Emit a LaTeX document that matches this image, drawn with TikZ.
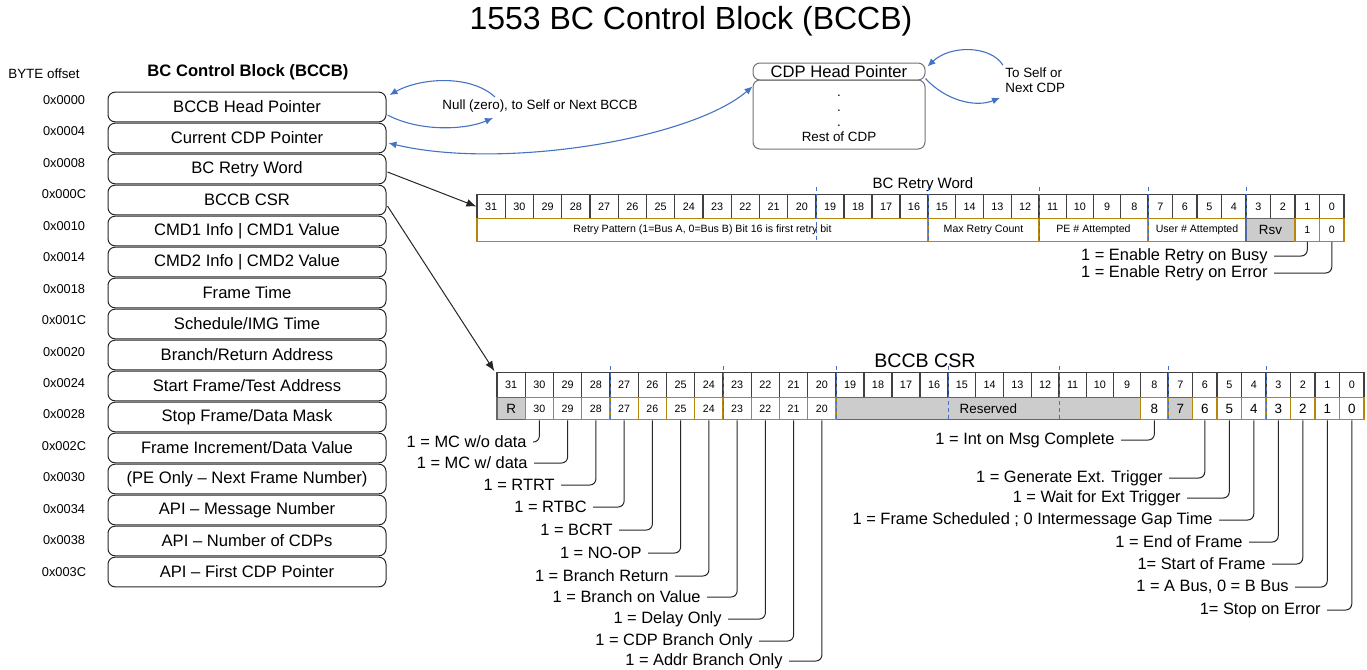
\documentclass[tikz,border=0pt]{standalone}
\usepackage{fontspec}
\setmainfont{Liberation Sans}
\usetikzlibrary{arrows.meta,calc}
\definecolor{linkblue}{RGB}{68,114,196}
\definecolor{fieldbrown}{RGB}{184,134,11}
\definecolor{rsvgray}{RGB}{204,204,204}

\tikzset{
  rowbox/.style={draw=black!85, line width=0.5pt, rounded corners=3.5pt, minimum width=139pt, minimum height=14.8pt, inner sep=0pt, font=\fontsize{8.3}{10}\selectfont},
  offtxt/.style={inner sep=0pt, font=\fontsize{6.4}{8}\selectfont},
  smalltxt/.style={inner sep=1pt, font=\fontsize{6.7}{7.5}\selectfont},
  cdpbox/.style={draw=black!55, line width=0.5pt, rounded corners=3.5pt, minimum width=86pt, inner sep=0pt},
  hdrcell/.style={draw=black!75, line width=0.6pt, inner sep=0pt, minimum height=12.25pt, font=\fontsize{5.4}{6}\selectfont},
  fldcell/.style={draw=fieldbrown, line width=0.6pt, inner sep=0pt, minimum height=11.25pt, font=\fontsize{5.3}{6}\selectfont},
  bigfld/.style={fldcell, font=\fontsize{6.7}{8}\selectfont},
  rsvcell/.style={draw=black!60, fill=rsvgray, line width=0.6pt, inner sep=0pt, minimum height=11.25pt, font=\fontsize{6.7}{8}\selectfont},
  nibble/.style={draw=linkblue, line width=0.5pt, dash pattern=on 2pt off 1.5pt},
  note/.style={anchor=east, inner xsep=3pt, inner ysep=0pt, font=\fontsize{8.2}{10}\selectfont},
  callout/.style={draw=black!85, line width=0.5pt, rounded corners=3pt},
  ptr/.style={draw=black!85, line width=0.5pt, -{Latex[length=5pt,width=4pt]}},
  selfptr/.style={draw=linkblue, line width=0.55pt, -{Latex[length=4pt,width=3.5pt]}},
  bothptr/.style={selfptr, {Latex[length=4pt,width=3.5pt]}-{Latex[length=4pt,width=3.5pt]}}
}

\begin{document}
\begin{tikzpicture}[x=0.5pt, y=-0.5pt,
  declare function={bitl(\k)=(\k>19) ? (31-\k)*28.25 : ((\k>15) ? 339+(19-\k)*28 : ((\k>11) ? 451+(15-\k)*27.75 : ((\k>7) ? 562+(11-\k)*27.25 : 671+(7-\k)*24.5)));}]
  \useasboundingbox (0,0) rectangle (1367,670);

  \node[font=\fontsize{16}{19}\selectfont] (title) at (691,21) {1553 BC Control Block (BCCB)};
  \node[font=\fontsize{6.7}{8}\selectfont] (byteoff) at (44,74) {BYTE offset};
  \node[font=\bfseries\fontsize{8.3}{10}\selectfont] (blkhdr) at (248,72) {BC Control Block (BCCB)};

  \foreach \i/\off/\txt in {0/0x0000/{BCCB Head Pointer}, 1/0x0004/{Current CDP Pointer},
      2/0x0008/{BC Retry Word}, 3/0x000C/{BCCB CSR}, 4/0x0010/{CMD1 Info | CMD1 Value},
      5/0x0014/{CMD2 Info | CMD2 Value}, 6/0x0018/{Frame Time}, 7/0x001C/{Schedule/IMG Time},
      8/0x0020/{Branch/Return Address}, 9/0x0024/{Start Frame/Test Address},
      10/0x0028/{Stop Frame/Data Mask}, 11/0x002C/{Frame Increment/Data Value},
      12/0x0030/{(PE Only – Next Frame Number)}, 13/0x0034/{API – Message Number},
      14/0x0038/{API – Number of CDPs}, 15/0x003C/{API – First CDP Pointer}} {
    \node[rowbox] (w\i) at (247,107+31*\i) {\txt};
    \node[offtxt] (o\i) at (64,100+31.45*\i) {\off};
  }

  \node[smalltxt] (nulltxt) at (540,106) {Null (zero), to Self or Next BCCB};
  \coordinate (nullup) at (495,97);
  \coordinate (nulldn) at (493,118);
  \draw[selfptr] (nullup) .. controls (470,74) and (420,78) .. ($(w0.east)+(3,-12)$);
  \draw[selfptr] ($(w0.east)+(1,8)$) .. controls (420,132) and (465,130) .. (nulldn);

  \node[cdpbox, minimum height=34.5pt] (cdprest) at (839,114.5) {};
  \node[align=center, inner sep=0pt, font=\fontsize{6.7}{7.5}\selectfont] (cdptxt) at (839,118) {.\\.\\.\\Rest of CDP};
  \node[cdpbox, minimum height=8.5pt, font=\fontsize{8.3}{10}\selectfont] (cdphead) at (839,71.5) {CDP Head Pointer};
  \node[smalltxt, align=left, anchor=west] (selftxt) at (1003,80) {To Self or\\Next CDP};
  \draw[selfptr] (selftxt.north west) .. controls (990,45) and (950,45) .. ($(cdphead.east)+(2,-5)$);
  \draw[selfptr] ($(cdphead.east)+(0,7)$) .. controls (945,100) and (975,108) .. ($(selftxt.south west)+(-3,3)$);
  \draw[bothptr] ($(w1.east)+(2,5)$) .. controls (500,170) and (690,140) .. ($(cdphead.south west)+(0,6)$);

  \node[font=\fontsize{7.5}{9}\selectfont] (rwtitle) at (923,185) {BC Retry Word};
  \foreach \bit in {31,30,...,0} {
    \pgfmathsetmacro\xl{477+bitl(\bit)}
    \pgfmathsetmacro\xr{477+bitl(\bit-1)}
    \pgfmathsetmacro\cellw{(\xr-\xl)*0.5}
    \node[hdrcell, minimum width=\cellw pt] (rw\bit) at ({(\xl+\xr)/2},206.5) {\bit};
  }
  \foreach \hi/\lo/\txt/\sty/\nm in {31/16/{Retry Pattern (1=Bus A, 0=Bus B) Bit 16 is first retry bit}/fldcell/rpat,
      15/12/{Max Retry Count}/fldcell/rmax, 11/8/{PE \# Attempted}/fldcell/rpe,
      7/4/{User \# Attempted}/fldcell/ruser, 3/2/Rsv/rsvcell/rrsv, 1/1/1/fldcell/r1, 0/0/0/fldcell/r0} {
    \pgfmathsetmacro\xl{477+bitl(\hi)}
    \pgfmathsetmacro\xr{477+bitl(\lo-1)}
    \pgfmathsetmacro\cellw{(\xr-\xl)*0.5}
    \node[\sty, minimum width=\cellw pt] (\nm) at ({(\xl+\xr)/2},230) {\txt};
  }
  \foreach \bit in {19,15,11,7,3}
    \draw[nibble] ({477+bitl(\bit)},187) -- ++(0,56);
  \foreach \bit/\txt/\xe/\yy in {1/{1 = Enable Retry on Busy}/1268/256, 0/{1 = Enable Retry on Error}/1268/273} {
    \node[note] (rn\bit) at (\xe+6,\yy) {\txt};
    \draw[callout] (rn\bit.east) -| (r\bit.south);
  }

  \node[font=\fontsize{9.8}{12}\selectfont] (csrtitle) at (925,361) {BCCB CSR};
  \foreach \bit in {31,30,...,0} {
    \pgfmathsetmacro\xl{497+bitl(\bit)}
    \pgfmathsetmacro\xr{497+bitl(\bit-1)}
    \pgfmathsetmacro\cellw{(\xr-\xl)*0.5}
    \node[hdrcell, minimum width=\cellw pt] (c\bit) at ({(\xl+\xr)/2},385) {\bit};
  }
  \foreach \hi/\lo/\txt/\sty/\nm in {31/31/R/rsvcell/s31, 19/9/Reserved/rsvcell/sres, 7/7/7/rsvcell/s7} {
    \pgfmathsetmacro\xl{497+bitl(\hi)}
    \pgfmathsetmacro\xr{497+bitl(\lo-1)}
    \pgfmathsetmacro\cellw{(\xr-\xl)*0.5}
    \node[\sty, minimum width=\cellw pt] (\nm) at ({(\xl+\xr)/2},408.5) {\txt};
  }
  \foreach \bit/\sty in {30/fldcell,29/fldcell,28/fldcell,27/fldcell,26/fldcell,25/fldcell,24/fldcell,
      23/fldcell,22/fldcell,21/fldcell,20/fldcell,8/bigfld,6/bigfld,5/bigfld,4/bigfld,3/bigfld,2/bigfld,1/bigfld,0/bigfld} {
    \pgfmathsetmacro\xl{497+bitl(\bit)}
    \pgfmathsetmacro\xr{497+bitl(\bit-1)}
    \pgfmathsetmacro\cellw{(\xr-\xl)*0.5}
    \node[\sty, minimum width=\cellw pt] (s\bit) at ({(\xl+\xr)/2},408.5) {\bit};
  }
  \foreach \bit in {27,23,19,15,11,7,3}
    \draw[nibble] ({497+bitl(\bit)},366) -- ++(0,55);

  \foreach \bit/\txt/\xe/\yy in {30/{1 = MC w/o data}/527/442, 29/{1 = MC w/ data}/528/463,
      28/{1 = RTRT}/555/485, 27/{1 = RTBC}/587/507, 26/{1 = BCRT}/613/530,
      25/{1 = NO-OP}/642/553, 24/{1 = Branch Return}/669/576, 23/{1 = Branch on Value}/701/597,
      22/{1 = Delay Only}/722/619, 21/{1 = CDP Branch Only}/753/641, 20/{1 = Addr Branch Only}/783/661,
      8/{1 = Int on Msg Complete}/1115/440, 6/{1 = Generate Ext. Trigger}/1163/478,
      5/{1 = Wait for Ext Trigger}/1181/498, 4/{1 = Frame Scheduled ; 0 Intermessage Gap Time}/1213/520,
      3/{1 = End of Frame}/1243/542, 2/{1= Start of Frame}/1266/564,
      1/{1 = A Bus, 0 = B Bus}/1289/587, 0/{1= Stop on Error}/1321/610} {
    \node[note] (sn\bit) at (\xe+6,\yy) {\txt};
    \draw[callout] (sn\bit.east) -| (s\bit.south);
  }

  \draw[ptr] ($(w2.east)+(1,3)$) -- (rw31.west);
  \draw[ptr] ($(w3.east)+(1,6)$) -- ($(c31.north west)+(-2,-1)$);
\end{tikzpicture}
\end{document}
